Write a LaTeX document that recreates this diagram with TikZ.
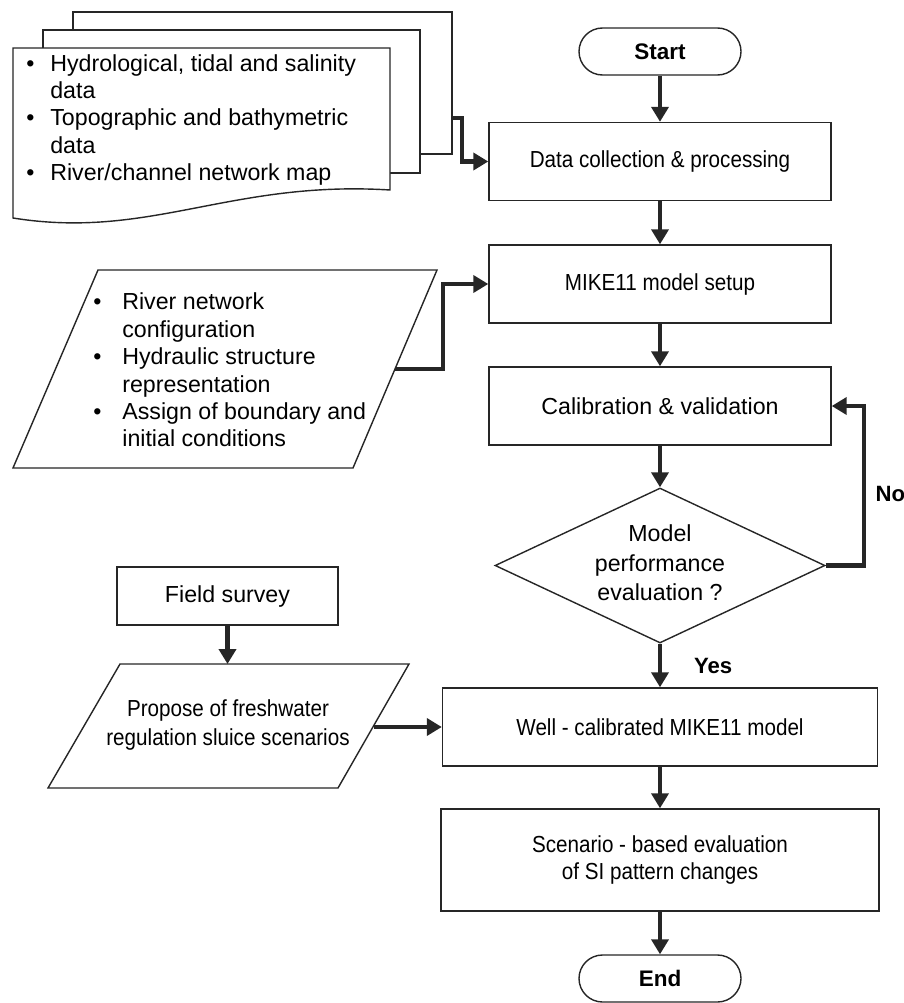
\documentclass[tikz,border=0pt]{standalone}
\usepackage{fontspec}
\setmainfont{Liberation Sans}
\newfontfamily\narrow[FakeStretch=0.89]{Liberation Sans}
\usetikzlibrary{shapes.geometric,arrows.meta,positioning}
\newcommand{\blt}[1]{\makebox[#1][l]{\textbullet}}

\begin{document}
\begin{tikzpicture}[
	line/.style={draw=black!85, line width=0.8pt},
	box/.style={line, fill=white, rectangle, inner sep=0pt, minimum width=6.84cm, minimum height=1.56cm, align=center, font=\fontsize{13.2}{16.5}\selectfont},
	narrowbox/.style={box, font=\fontsize{13.2}{15.6}\selectfont\narrow},
	term/.style={box, rounded corners=0.47cm, minimum width=3.24cm, minimum height=0.94cm, font=\fontsize{12.8}{15}\selectfont\bfseries},
	decision/.style={line, fill=white, diamond, inner sep=0pt, minimum width=6.6cm, minimum height=3.1cm},
	flow/.style={draw=black!85, line width=2.3pt, -{Triangle[width=0.34cm,length=0.3cm]}},
	lbl/.style={inner sep=0pt, font=\fontsize{12.6}{15}\selectfont\bfseries},
	list/.style={inner sep=0pt, align=left, font=\fontsize{13.2}{15.6}\selectfont}
]
	\useasboundingbox (0,0) rectangle (18.08,-20.06);

	% main column
	\node[term] (start) at (13.2,-1.03) {Start};
	\node[narrowbox] (collect) at (13.2,-3.23) {Data collection \& processing};
	\node[narrowbox] (setup) at (13.2,-5.68) {MIKE11 model setup};
	\node[box] (calib) at (13.2,-8.12) {Calibration \& validation};
	\node[decision, label={[align=center, inner sep=0pt, font=\fontsize{13.2}{16.8}\selectfont, yshift=0.05cm]center:Model\\performance\\evaluation ?}] (perf) at (13.2,-11.31) {};
	\node[narrowbox, minimum width=8.7cm] (model) at (13.2,-14.54) {Well - calibrated MIKE11 model};
	\node[narrowbox, minimum width=8.76cm, minimum height=2.04cm] (scen) at (13.2,-17.2) {Scenario - based evaluation\\of SI pattern changes};
	\node[term] (end) at (13.2,-19.57) {End};

	% input documents
	\draw[line, fill=white] (1.46,-0.24) rectangle (9.04,-3.08);
	\draw[line, fill=white] (0.86,-0.6) rectangle (8.4,-3.46);
	\draw[line, fill=white] (0.26,-0.96) -- (7.8,-0.96) -- (7.8,-3.8) .. controls (4.6,-3.6) and (3.0,-4.8) .. (0.26,-4.36) -- cycle;
	\coordinate (docs) at (9.04,-2.36);
	\node[list, anchor=west] (data) at (0.52,-2.4) {\blt{0.48cm}Hydrological, tidal and salinity\\
		\hspace*{0.48cm}data\\
		\blt{0.48cm}Topographic and bathymetric\\
		\hspace*{0.48cm}data\\
		\blt{0.48cm}River/channel network map};

	% model configuration
	\draw[line, fill=white] (1.96,-5.4) -- (8.74,-5.4) -- (7.06,-9.36) -- (0.26,-9.36) -- cycle;
	\coordinate (p1out) at (7.9,-7.38);
	\node[list, anchor=west] (config) at (1.86,-7.4) {\blt{0.58cm}River network\\
		\hspace*{0.58cm}configuration\\
		\blt{0.58cm}Hydraulic structure\\
		\hspace*{0.58cm}representation\\
		\blt{0.58cm}Assign of boundary and\\
		\hspace*{0.58cm}initial conditions};

	% scenarios
	\node[box, minimum width=4.42cm, minimum height=1.16cm] (field) at (4.55,-11.92) {Field survey};
	\draw[line, fill=white] (2.4,-13.28) -- (8.18,-13.28) -- (6.76,-15.76) -- (0.96,-15.76) -- cycle;
	\coordinate (p2top) at (4.55,-13.28);
	\coordinate (p2out) at (7.47,-14.54);
	\node[align=center, inner sep=0pt, font=\fontsize{13.2}{17}\selectfont\narrow] (propose) at (4.56,-14.5) {Propose of freshwater\\regulation sluice scenarios};

	% arrows
	\draw[flow] (start) -- (collect);
	\draw[flow] (collect) -- (setup);
	\draw[flow] (setup) -- (calib);
	\draw[flow] (calib) -- (perf);
	\draw[flow] (perf) -- node[lbl, right=0.64cm] (yes) {Yes} (model);
	\draw[flow] (perf.east) -- ++(0.76,0) |- node[lbl, pos=0.225, right=0.2cm] (no) {No} (calib.east);
	\draw[flow] (model) -- (scen);
	\draw[flow] (scen) -- (end);
	\draw[flow] (docs) -- ++(0.2,0) |- (collect.west);
	\draw[flow] (p1out) -- ++(0.96,0) |- (setup.west);
	\draw[flow] (field) -- (p2top);
	\draw[flow] (p2out) -- (model.west);
\end{tikzpicture}
\end{document}
